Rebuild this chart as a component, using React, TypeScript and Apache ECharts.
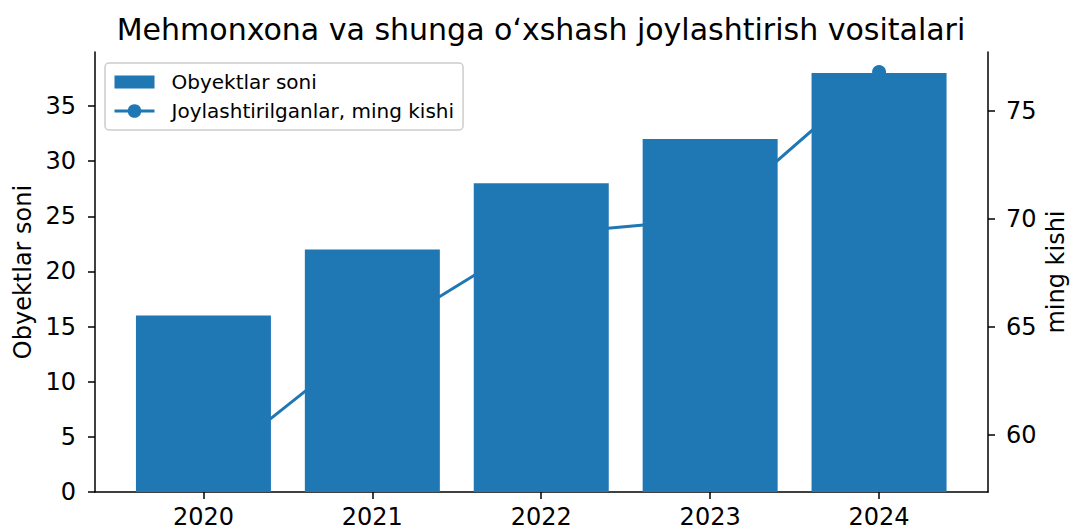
import React, { useEffect, useRef } from "react";
import * as echarts from "echarts";

const years = ["2020", "2021", "2022", "2023", "2024"];
const objectCounts = [16, 22, 28, 32, 38];
const guestsThousand = [58.3, 64.5, 69.3, 70.0, 76.8];
const leftTicks = [0, 5, 10, 15, 20, 25, 30, 35];
const rightTicks = [60, 65, 70, 75];
const xTicks = [0, 1, 2, 3, 4];

const BLUE = "#1f77b4";
const FONT = "DejaVu Sans";

export default function App() {
  const ref = useRef<HTMLDivElement>(null);
  useEffect(() => {
    if (!ref.current) return;
    const chart = echarts.init(ref.current, null, { renderer: "svg" });
    const axisLine = { show: true, onZero: false, lineStyle: { color: "#000", width: 1.5 } };
    const axisTick = { show: true, inside: false, length: 7, lineStyle: { color: "#000", width: 1.5 } };
    const labelStyle = { fontFamily: FONT, fontSize: 24, color: "#000" };
    const nameStyle = { fontFamily: FONT, fontSize: 24, color: "#000" };
    chart.setOption({
      animation: false,
      textStyle: { fontFamily: FONT },
      title: {
        text: "Mehmonxona va shunga oʻxshash joylashtirish vositalari",
        left: 536,
        textAlign: "center",
        top: 9,
        textStyle: { fontFamily: FONT, fontSize: 30, fontWeight: "normal", color: "#000" },
      },
      legend: {
        left: 105,
        top: 63,
        orient: "vertical",
        padding: [9, 9, 9, 8],
        itemGap: 9,
        itemWidth: 40,
        itemHeight: 17,
        symbolKeepAspect: true,
        borderColor: "#cccccc",
        borderWidth: 1.5,
        borderRadius: 4,
        backgroundColor: "rgba(255,255,255,0.8)",
        textStyle: { fontFamily: FONT, fontSize: 20, color: "#000", padding: [0, 0, 0, 12] },
        data: [
          { name: "Obyektlar soni", icon: "path://M0,0H40V13H0Z" },
          { name: "Joylashtirilganlar, ming kishi", lineStyle: { width: 3 } },
        ],
      },
      grid: { left: 95, right: 82, top: 52, bottom: 39, containLabel: false, outerBoundsMode: "none" },
      xAxis: {
        type: "value",
        min: -0.642,
        max: 4.645,
        axisLine,
        splitLine: { show: false },
        axisTick: { ...axisTick, customValues: xTicks },
        axisLabel: {
          customValues: xTicks,
          formatter: (v: number) => years[Math.round(v)] ?? "",
          ...labelStyle,
          margin: 13,
        },
      },
      yAxis: [
        {
          type: "value",
          position: "left",
          min: 0,
          max: 39.9,
          name: "Obyektlar soni",
          nameLocation: "middle",
          nameRotate: 90,
          nameGap: 60,
          nameMoveOverlap: false,
          nameTextStyle: nameStyle,
          axisLine,
          splitLine: { show: false },
          axisTick: { ...axisTick, customValues: leftTicks },
          axisLabel: { customValues: leftTicks, ...labelStyle, margin: 19 },
        },
        {
          type: "value",
          position: "right",
          min: 57.375,
          max: 77.725,
          name: "ming kishi",
          nameLocation: "middle",
          nameRotate: 90,
          nameGap: 56,
          nameMoveOverlap: false,
          nameTextStyle: nameStyle,
          axisLine,
          splitLine: { show: false },
          axisTick: { ...axisTick, customValues: rightTicks },
          axisLabel: { customValues: rightTicks, ...labelStyle, margin: 18 },
        },
      ],
      series: [
        {
          name: "Joylashtirilganlar, ming kishi",
          type: "line",
          yAxisIndex: 1,
          z: 1,
          data: guestsThousand.map((v, i) => [i, v]),
          symbol: "circle",
          symbolSize: 14,
          lineStyle: { color: BLUE, width: 3 },
          itemStyle: { color: BLUE },
        },
        {
          name: "Obyektlar soni",
          type: "bar",
          yAxisIndex: 0,
          z: 3,
          barWidth: 135,
          data: objectCounts.map((v, i) => [i, v]),
          itemStyle: { color: BLUE },
        },
      ],
    });
    return () => chart.dispose();
  }, []);
  return <div ref={ref} style={{ width: 1070, height: 531, position: "absolute", left: 0, top: 0 }} />;
}
